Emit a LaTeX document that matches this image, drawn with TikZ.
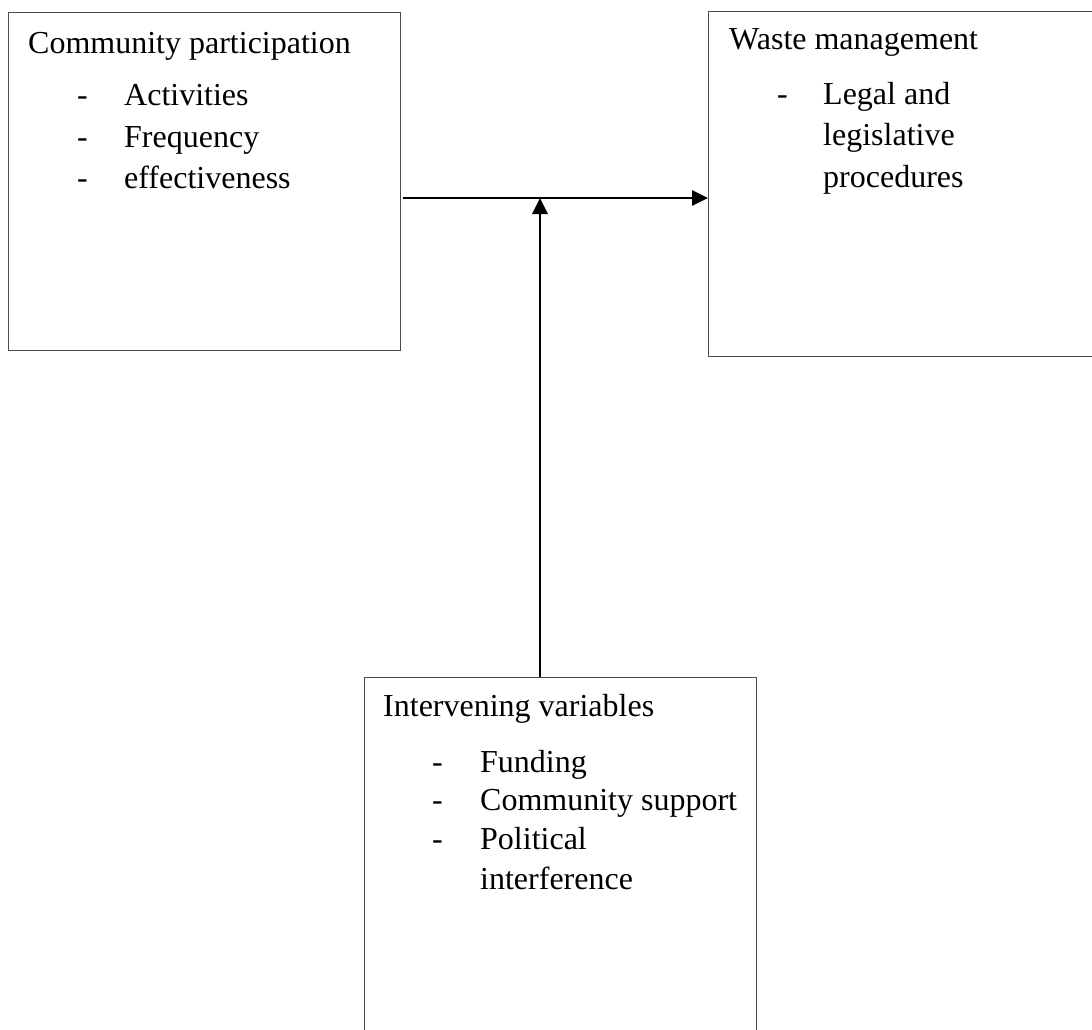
\documentclass[tikz,border=0pt]{standalone}
\usepackage{fontspec}
\setmainfont{Liberation Serif}
\usetikzlibrary{arrows.meta}
\begin{document}
\begin{tikzpicture}[x=1pt,y=-1pt,
  box/.style={draw=black!70,line width=1.4pt,inner sep=0pt,anchor=north west},
  txt/.style={anchor=base west,inner sep=0pt,font=\fontsize{32}{36}\selectfont},
  arr/.style={line width=2.8pt,-{Triangle[length=16pt,width=15pt]}}]
\clip (0,0) rectangle (1092,1030);
\fill[white] (0,0) rectangle (1092,1030);
% boxes
\node[box,minimum width=392pt,minimum height=338pt] (cp) at (8,12) {};
\node[box,minimum width=392pt,minimum height=345pt] (wm) at (708,11) {};
\node[box,minimum width=392pt,minimum height=370pt] (iv) at (364,677) {};
% texts box 1
\node[txt] (cpt) at (28,54) {Community participation};
\node[txt] (cpd1) at (77,106) {-};
\node[txt] (cpa) at (124,106) {Activities};
\node[txt] (cpd2) at (77,147) {-};
\node[txt] (cpb) at (124,147) {Frequency};
\node[txt] (cpd3) at (77,188) {-};
\node[txt] (cpc) at (124,188) {effectiveness};
% texts box 2
\node[txt] (wmt) at (729,50) {Waste management};
\node[txt] (wmd1) at (777,105) {-};
\node[txt] (wma) at (823,105) {Legal and};
\node[txt] (wmb) at (823,146) {legislative};
\node[txt] (wmc) at (823,187) {procedures};
% texts box 3
\node[txt] (ivt) at (383,716) {Intervening variables};
\node[txt] (ivd1) at (432,772) {-};
\node[txt] (iva) at (480,772) {Funding};
\node[txt] (ivd2) at (432,810) {-};
\node[txt] (ivb) at (480,810) {Community support};
\node[txt] (ivd3) at (432,849) {-};
\node[txt] (ivc) at (480,849) {Political};
\node[txt] (ivd) at (480,889) {interference};
% connectors
\coordinate (h) at (0,198);
\coordinate (j) at (540,198);
\draw[arr] ([xshift=2pt]h -| cp.east) -- (h -| wm.west);
\draw[arr] (iv.north -| j) -- (j);
\end{tikzpicture}
\end{document}
